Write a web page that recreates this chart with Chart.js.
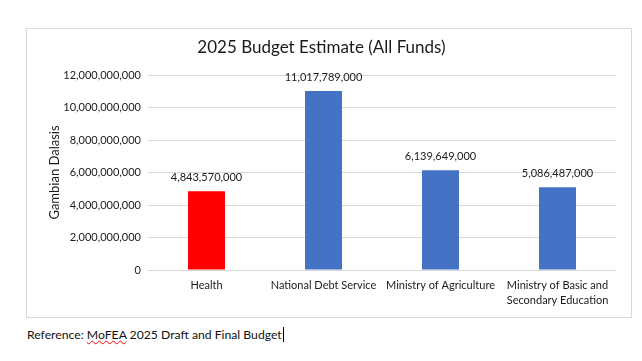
<!DOCTYPE html>
<html>
<head>
<meta charset="utf-8">
<script src="https://cdn.jsdelivr.net/npm/chart.js@4/dist/chart.umd.min.js"></script>
<style>
  body { margin: 0; background: #fff; font-family: Lato, "Open Sans", sans-serif; }
  #box { position: absolute; left: 26px; top: 28px; width: 604px; height: 288px; border: 1px solid #d9d9d9; }
  #note { position: absolute; left: 27px; top: 327px; font-size: 12.2px; color: #111; }
  #note .sp { text-decoration: underline wavy red; text-decoration-thickness: 1px; }
  #note .cur { border-right: 1px solid #000; padding-right: 1px; }
</style>
</head>
<body>
<div id="box"><canvas id="chart" width="604" height="288"></canvas></div>
<div id="note"><span class="cur">Reference: <span class="sp">MoFEA</span> 2025 Draft and Final Budget</span></div>
<script>
const categories = ["Health", "National Debt Service", "Ministry of Agriculture", ["Ministry of Basic and", "Secondary Education"]]
const budget = [4843570000, 11017789000, 6139649000, 5086487000]
const barColors = ["#ff0000", "#4472c4", "#4472c4", "#4472c4"]
const yTicks = [0, 2000000000, 4000000000, 6000000000, 8000000000, 10000000000, 12000000000]

const fmt = v => Number(v).toLocaleString("en-US")

// value labels above each bar
const valueLabels = {
  id: "valueLabels",
  afterDatasetsDraw(chart) {
    const ctx = chart.ctx
    ctx.save()
    ctx.font = "11px Lato"
    ctx.fillStyle = "#1a1a1a"
    ctx.textAlign = "center"
    ctx.textBaseline = "middle"
    chart.getDatasetMeta(0).data.forEach((bar, i) => {
      ctx.fillText(fmt(budget[i]), bar.x, bar.y - 14)
    })
    ctx.restore()
  }
}

const chart = new Chart("chart", {
  type: "bar",
  data: {
    labels: categories,
    datasets: [{
      data: budget,
      backgroundColor: barColors,
      categoryPercentage: 1,
      barPercentage: 0.316,
    }]
  },
  options: {
    responsive: false,
    animation: false,
    layout: {padding: {left: 0, right: 15, top: 0, bottom: 0}},
    plugins: {
      legend: {display: false},
      tooltip: {enabled: false},
      title: {
        display: true,
        text: "2025 Budget Estimate (All Funds)",
        color: "#1a1a1a",
        font: {family: "Lato", size: 17, weight: "normal"},
        padding: {top: 8, bottom: 17.6},
      },
    },
    scales: {
      x: {
        grid: {display: false, drawTicks: false},
        border: {display: false},
        ticks: {color: "#1a1a1a", font: {family: "Lato", size: 11, lineHeight: 1.35}, padding: 8, maxRotation: 0, autoSkip: false},
        afterFit: s => { s.height = 47 },
      },
      y: {
        min: 0,
        max: 12000000000,
        afterBuildTicks: s => { s.ticks = yTicks.map(v => ({value: v})) },
        grid: {color: "#d9d9d9", drawTicks: false},
        border: {display: false},
        ticks: {color: "#1a1a1a", font: {family: "Lato", size: 11}, padding: 7, callback: v => fmt(v)},
        title: {display: true, text: "Gambian Dalasis", color: "#1a1a1a", font: {family: "Lato", size: 13}, padding: {top: 20}},
        afterFit: s => { s.width = 121 },
      },
    },
  },
  plugins: [valueLabels],
})
</script>
</body>
</html>
